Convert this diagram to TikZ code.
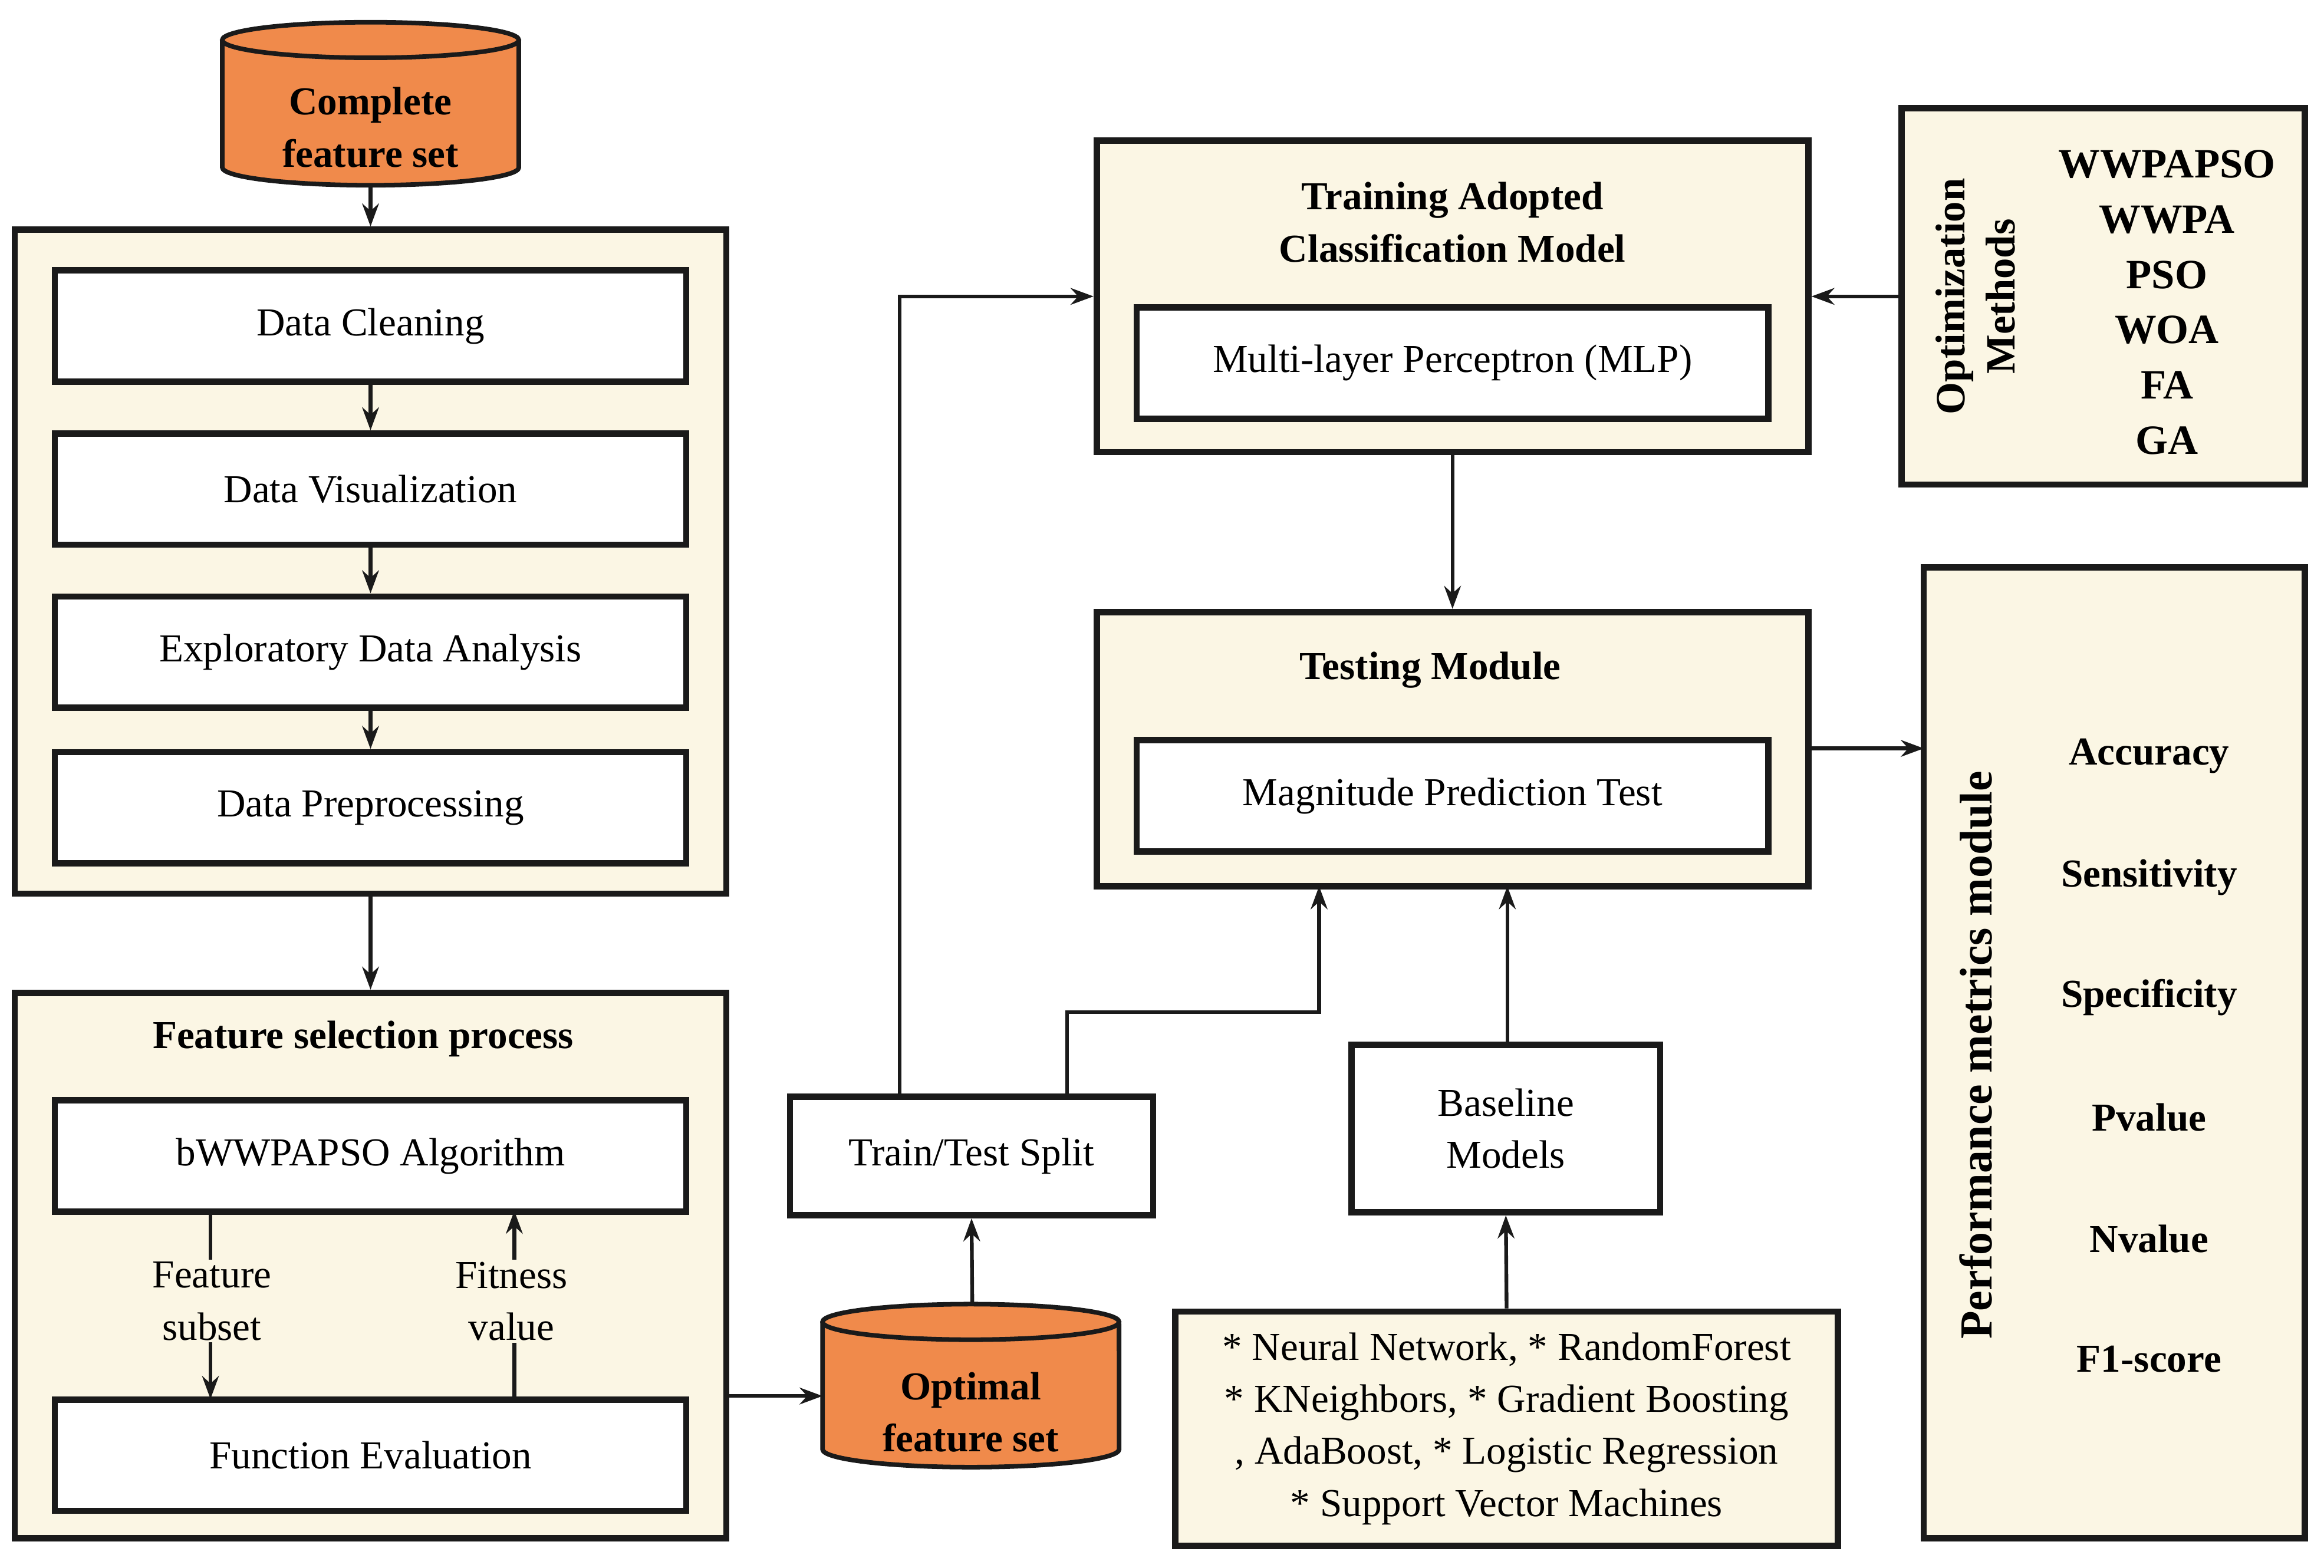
\documentclass[tikz,border=0pt]{standalone}
\usepackage{fontspec}
\setmainfont{Liberation Serif}
\usetikzlibrary{arrows.meta}
\definecolor{cream}{HTML}{FBF6E4}
\definecolor{orng}{HTML}{F08A4B}
\definecolor{dk}{HTML}{1A1A1A}
\begin{document}
\begin{tikzpicture}[x=0.025cm,y=-0.025cm,
 outer/.style={draw=dk,line width=3pt,fill=cream},
 inner/.style={draw=dk,line width=3pt,fill=white},
 txt/.style={font=\fontsize{19}{25}\selectfont,align=center},
 btxt/.style={font=\fontsize{19}{25}\selectfont\bfseries,align=center},
 arr/.style={draw=dk,line width=1.8pt,-{Stealth[length=11pt,width=8pt]}},
 cyl/.style={draw=dk,line width=2.2pt,fill=orng}]
\useasboundingbox (0,0) rectangle (1568,1058);
\fill[white] (0,0) rectangle (1568,1058);
% complete feature set cylinder
\draw[cyl] (150,27) -- (150,113) arc[start angle=180,end angle=360,x radius=2.5cm,y radius=0.3cm] -- (350,27);
\draw[cyl] (250,27) ellipse [x radius=2.5cm,y radius=0.3cm];
\node[btxt] (cfs) at (250,86) {Complete\\feature set};
\coordinate (cfsb) at (250,125);
% box 1
\node[outer,minimum width=12cm,minimum height=11.2cm] (b1) at (250,379) {};
\node[inner,txt,minimum width=10.65cm,minimum height=1.875cm] (dc) at (250,220) {Data Cleaning};
\node[inner,txt,minimum width=10.65cm,minimum height=1.875cm] (dv) at (250,330) {Data Visualization};
\node[inner,txt,minimum width=10.65cm,minimum height=1.875cm] (eda) at (250,440) {Exploratory Data Analysis};
\node[inner,txt,minimum width=10.65cm,minimum height=1.875cm] (dp) at (250,545) {Data Preprocessing};
\draw[arr] (cfsb) -- (b1.north);
\draw[arr] (dc) -- (dv);
\draw[arr] (dv) -- (eda);
\draw[arr] (eda) -- (dp);
% box 2
\node[outer,minimum width=12cm,minimum height=9.2cm] (b2) at (250,854) {};
\draw[arr] (b1.south) -- (b2.north);
\node[btxt] (fsp) at (245,701) {Feature selection process};
\node[inner,txt,minimum width=10.65cm,minimum height=1.875cm] (bw) at (250,780) {bWWPAPSO Algorithm};
\node[inner,txt,minimum width=10.65cm,minimum height=1.875cm] (fe) at (250,982) {Function Evaluation};
\coordinate (fsA) at (142,817); \coordinate (fsB) at (142,944);
\coordinate (fvA) at (347,944); \coordinate (fvB) at (347,817);
\draw[arr] (fsA) -- (fsB);
\draw[arr] (fvA) -- (fvB);
\node[txt,fill=cream,inner sep=1pt] (fsl) at (143,878) {Feature\\subset};
\node[txt,fill=cream,inner sep=1pt] (fvl) at (345,878) {Fitness\\value};
% optimal feature set
\draw[cyl] (555,892) -- (555,978) arc[start angle=180,end angle=360,x radius=2.5cm,y radius=0.3cm] -- (755,892);
\draw[cyl] (655,892) ellipse [x radius=2.5cm,y radius=0.3cm];
\node[btxt] (ofs) at (655,953) {Optimal\\feature set};
\coordinate (ofsl) at (555,942); \coordinate (ofst) at (656,880);
\coordinate (b2r) at (490,942);
\draw[arr] (b2r) -- (ofsl);
% train test split
\node[inner,txt,minimum width=6.125cm,minimum height=2cm] (tts) at (655.5,780) {Train/Test Split};
\draw[arr] (ofst) -- (tts.south);
% training
\node[outer,minimum width=12cm,minimum height=5.25cm] (tr) at (980,200) {};
\node[btxt] (trt) at (980,150) {Training Adopted\\Classification Model};
\node[inner,txt,minimum width=10.65cm,minimum height=1.875cm] (mlp) at (980,245) {Multi-layer Perceptron (MLP)};
\coordinate (t1) at (607,740); \coordinate (t1c) at (607,200);
\draw[arr] (t1) -- (t1c) -- (tr.west);
% optimization
\node[outer,minimum width=6.8cm,minimum height=6.35cm] (om) at (1419,200) {};
\node[btxt,rotate=90,font=\fontsize{20}{24}\selectfont\bfseries] (omt) at (1333,200) {Optimization\\Methods};
\node[btxt,font=\fontsize{20}{26.5}\selectfont\bfseries] (oml) at (1462,204) {WWPAPSO\\WWPA\\PSO\\WOA\\FA\\GA};
\draw[arr] (om.west) -- (tr.east);
% testing
\node[outer,minimum width=12cm,minimum height=4.625cm] (te) at (980,505.5) {};
\node[btxt] (tet) at (965,452) {Testing Module};
\node[inner,txt,minimum width=10.65cm,minimum height=1.875cm] (mpt) at (980,537) {Magnitude Prediction Test};
\draw[arr] (tr.south) -- (te.north);
\coordinate (t2) at (720,740); \coordinate (t2a) at (720,683); \coordinate (t2b) at (890,683); \coordinate (t2c) at (890,598);
\draw[arr] (t2) -- (t2a) -- (t2b) -- (t2c);
% performance
\node[outer,minimum width=6.425cm,minimum height=16.375cm] (pm) at (1426.5,710.5) {};
\node[btxt,rotate=90,font=\fontsize{22}{26}\selectfont\bfseries] (pmt) at (1333,712) {Performance metrics module};
\node[btxt] (acc) at (1450,510) {Accuracy};
\node[btxt] (sen) at (1450,592) {Sensitivity};
\node[btxt] (spe) at (1450,673) {Specificity};
\node[btxt] (pv) at (1450,754) {Pvalue};
\node[btxt] (nv) at (1450,836) {Nvalue};
\node[btxt] (f1) at (1450,917) {F1-score};
\coordinate (ter) at (1220,505); \coordinate (pml) at (1298,505);
\draw[arr] (ter) -- (pml);
% baseline
\node[inner,txt,minimum width=5.2cm,minimum height=2.825cm] (bm) at (1016,761.5) {Baseline\\Models};
\coordinate (bmt) at (1017,705); \coordinate (teb) at (1017,598);
\draw[arr] (bmt) -- (teb);
\node[outer,txt,minimum width=11.175cm,minimum height=3.95cm,inner sep=2pt] (ml) at (1016.5,964) {* Neural Network, * RandomForest\\* KNeighbors, * Gradient Boosting\\, AdaBoost, * Logistic Regression\\* Support Vector Machines};
\draw[arr] (ml.north) -- (bm.south);
\end{tikzpicture}
\end{document}
